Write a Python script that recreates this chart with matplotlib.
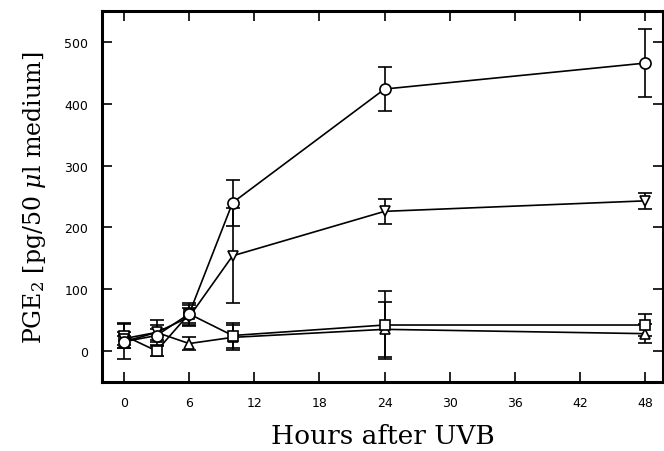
import matplotlib.pyplot as plt
import numpy as np

plt.rcParams['mathtext.fontset'] = 'dejavuserif'

hours = [0, 3, 6, 10, 24, 48]

circle = [15, 25, 60, 240, 424, 466]
circle_err = [10, 10, 15, 37, 35, 55]

tri_down = [20, 30, 55, 154, 226, 243]
tri_down_err = [10, 12, 15, 77, 20, 13]

square = [25, 0, 60, 25, 42, 42]
square_err = [20, 8, 18, 20, 55, 18]

tri_up = [15, 30, 12, 22, 35, 28]
tri_up_err = [28, 20, 10, 20, 45, 15]

fig = plt.figure(figsize=(6.64, 4.52), dpi=100)
ax = fig.add_axes([0.154, 0.153, 0.844, 0.82])

series = [
    (tri_up, tri_up_err, '^'),
    (square, square_err, 's'),
    (tri_down, tri_down_err, 'v'),
    (circle, circle_err, 'o'),
]
for vals, err, mk in series:
    ax.errorbar(hours, vals, yerr=err, color='black', lw=1.2, elinewidth=1.2,
                capsize=5, capthick=1.2, marker=mk, markersize=8 if mk == 'o' else 7,
                markerfacecolor='white', markeredgecolor='black', markeredgewidth=1.2)

ax.set_xlim(-2, 49.6)
ax.set_ylim(-50, 550)
ax.set_xticks(np.arange(0, 49, 6))
ax.set_yticks(np.arange(0, 501, 100))
ax.tick_params(direction='in', length=7, width=1.2, top=True, right=True,
               labelsize=9, pad=10)
for lab in ax.get_xticklabels() + ax.get_yticklabels():
    lab.set_family('DejaVu Sans')
for sp in ax.spines.values():
    sp.set_linewidth(2.2)

ax.set_xlabel('Hours after UVB', family='DejaVu Serif', fontsize=19, labelpad=10)
ax.set_ylabel(r'PGE$_2$ [pg/50 $\mu$l medium]', family='DejaVu Serif', fontsize=17,
              labelpad=12)

plt.savefig('out.png', dpi=100)
